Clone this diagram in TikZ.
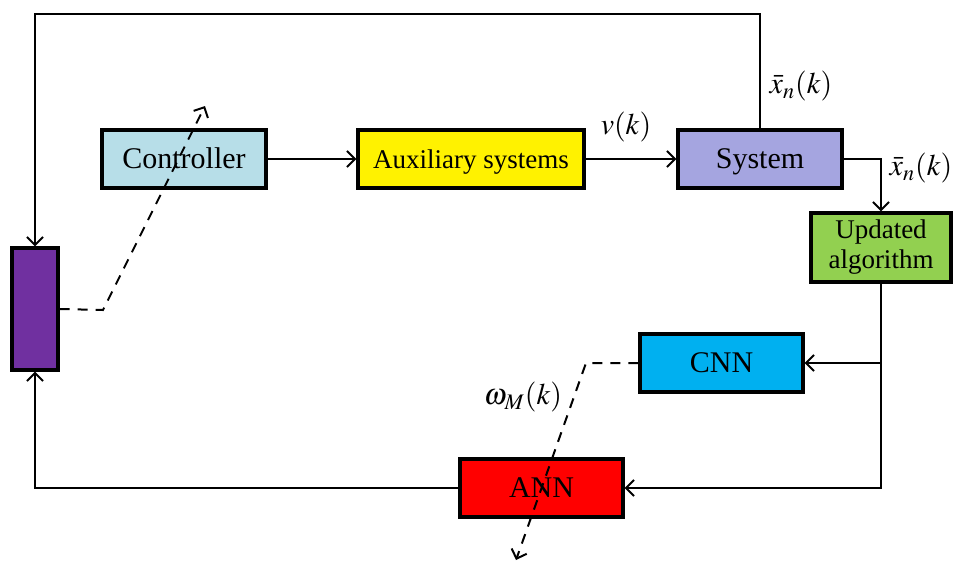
\documentclass[tikz,border=0pt]{standalone}
\usepackage{mathptmx}
\usepackage{fontspec}
\setmainfont{Liberation Serif}
\usetikzlibrary{positioning, arrows, arrows.meta}

\definecolor{ctrlblue}{HTML}{B7DEE8}
\definecolor{sysblue}{HTML}{A5A5E0}
\definecolor{nnpurple}{HTML}{7030A0}
\definecolor{updgreen}{HTML}{92D050}
\definecolor{cnnblue}{HTML}{00B0F0}

\tikzset{
	block/.style={draw, line width=1.6pt, minimum width=82pt, minimum height=29pt, inner sep=1pt, font=\fontsize{15}{17}\selectfont},
	oneline/.style={text height=10.5pt, text depth=1pt},
	lbl/.style={font=\fontsize{15}{17}\selectfont},
	dline/.style={->, dash pattern=on 5pt off 4pt},
}

\begin{document}
\begin{tikzpicture}[x=0.5pt, y=-0.5pt, >={Straight Barb[length=4pt, width=8pt]}, line width=1pt]
	\useasboundingbox (0,0) rectangle (960,563);

	\node[block, oneline, fill=ctrlblue] (ctrl) at (184,159) {Controller};
	\node[block, oneline, fill=yellow, minimum width=113pt, font=\fontsize{13.5}{15}\selectfont] (aux) at (471,159) {Auxiliary systems};
	\node[block, oneline, fill=sysblue] (sys) at (760,159) {System};
	\node[block, fill=updgreen, minimum width=70pt, minimum height=34.5pt, align=center, font=\fontsize{13.5}{15}\selectfont] (upd) at (881,247.5) {Updated\\algorithm};
	\node[block, oneline, fill=cnnblue, minimum width=81.5pt] (cnn) at (721.5,363) {CNN};
	\node[block, oneline, fill=red, minimum width=81.5pt] (ann) at (541.5,488) {ANN};
	\node[block, fill=nnpurple, minimum width=23pt, minimum height=61pt] (mem) at (35,309) {};

	\coordinate (tl) at (35,14);
	\coordinate (c1) at (103,310);
	\coordinate (c2) at (205,106);
	\coordinate (c3) at (586,363);
	\coordinate (c4) at (516,560);

	\node[lbl] (vk) at (626,127) {$v(k)$};
	\node[lbl] (xa) at (801,86) {$\bar{x}_n(k)$};
	\node[lbl] (xb) at (921,168) {$\bar{x}_n(k)$};
	\node[lbl] (wm) at (523,397) {$\omega_{M}(k)$};

	\draw [->] (ctrl) -- (aux);
	\draw [->] (aux) -- (sys);
	\draw [->] (sys.north) -- (sys.north |- tl) -| (mem.north);
	\draw [->] (sys.east) -| (upd.north);
	\draw [->] (upd.south) |- (ann.east);
	\draw [->] (upd.south |- cnn.east) -- (cnn.east);
	\draw [->] (ann.west) -| (mem.south);

	\draw [dline] (mem.east) -- (c1) -- (c2);
	\draw [dline] (cnn.west) -- (c3) -- (c4);
\end{tikzpicture}
\end{document}
